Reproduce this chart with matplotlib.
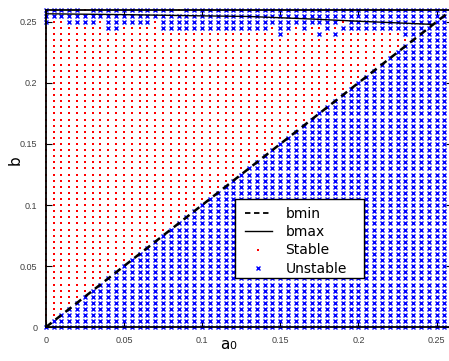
import numpy as np
import matplotlib
matplotlib.use("Agg")
import matplotlib.pyplot as plt
from matplotlib.lines import Line2D
from matplotlib.patches import Rectangle

# ---- data ----
step = 0.005
n_grid = 53                      # a0 and b from 0 to 0.26
a0_values = np.round(np.arange(n_grid) * step, 4)
b_values = np.round(np.arange(n_grid) * step, 4)

# bmin: b = a0 (straight diagonal)
bmin_a0 = [0.0, 0.26]
bmin_b = [0.0, 0.26]

# bmax curve (nearly flat, slightly decreasing)
bmax_a0 = [0.0, 0.05, 0.10, 0.13, 0.17, 0.20, 0.2478]
bmax_b = [0.2565, 0.2558, 0.2548, 0.2543, 0.2522, 0.2504, 0.2478]

# top rows read marker by marker: column indices (a0 = index*0.005) that are UNSTABLE
all_cols = list(range(n_grid))
unstable_row_026 = [c for c in all_cols if c not in (5, 17)]
unstable_row_0255 = all_cols
unstable_row_025 = [c for c in all_cols if c not in (1, 2, 7, 14, 38)]
unstable_row_0245 = [8, 9] + list(range(15, 29)) + [30, 31, 33, 36] + list(range(38, 53))
unstable_row_024 = [30, 35, 37] + list(range(46, 53))
top_rows = {
    52: unstable_row_026,
    51: unstable_row_0255,
    50: unstable_row_025,
    49: unstable_row_0245,
    48: unstable_row_024,
}
# below the top rows: stable above the bmin diagonal, unstable on/below it

stable_a, stable_b, unstable_a, unstable_b = [], [], [], []
for j, b in enumerate(b_values):
    for i, a in enumerate(a0_values):
        if j in top_rows:
            st = i not in top_rows[j]
        else:
            st = i < j
        if st:
            stable_a.append(a); stable_b.append(b)
        else:
            unstable_a.append(a); unstable_b.append(b)

xticks = [0, 0.05, 0.1, 0.15, 0.2, 0.25]
yticks = [0, 0.05, 0.1, 0.15, 0.2, 0.25]
xtick_labels = ["0", "0.05", "0.1", "0.15", "0.2", "0.25"]
ytick_labels = ["0", "0.05", "0.1", "0.15", "0.2", "0.25"]
legend_labels = ["bmin", "bmax", "Stable", "Unstable"]

# ---- figure ----
W, H = 449, 361
fig = plt.figure(figsize=(W / 100, H / 100), dpi=100)
left, right, bottom, top = 45.7, 452.3, 327.3, 9.5
ax = fig.add_axes([left / W, 1 - bottom / H, (right - left) / W, (bottom - top) / H])

ax.plot(stable_a, stable_b, linestyle="none", marker="s", markersize=1.6,
        markerfacecolor="#ff0000", markeredgewidth=0, color="#ff0000", zorder=2,
        clip_on=False)
ax.plot(unstable_a, unstable_b, linestyle="none", marker="x", markersize=3.3,
        markeredgewidth=1.0, color="#0000ff", zorder=2, clip_on=False)
ax.plot(bmin_a0, bmin_b, color="black", linestyle=(0, (3, 2)), linewidth=1.8, zorder=3)
ax.plot(bmax_a0, bmax_b, color="black", linewidth=1.0, zorder=3)

ax.set_xlim(0, 0.26)
ax.set_ylim(0, 0.26)
ax.set_xticks(xticks)
ax.set_xticklabels(xtick_labels)
ax.set_yticks(yticks)
ax.set_yticklabels(ytick_labels)
ax.tick_params(direction="in", length=4, width=0.8, top=True, right=True,
               labelsize=6.5, labelcolor="#404040", pad=6)
for lab in ax.get_xticklabels() + ax.get_yticklabels():
    lab.set_family("Liberation Sans")
for sp in ax.spines.values():
    sp.set_linewidth(1.3)

fig.text(15 / W, 1 - 160 / H, "b", rotation=90, ha="center", va="center", fontsize=11)
fig.text(229 / W, 1 - 349 / H, "a", ha="right", va="baseline", fontsize=11)
fig.text(229 / W, 1 - 349 / H, "0", ha="left", va="baseline", fontsize=8)

# legend box (MATLAB-style, extra room on the right)
bx0, by0, bx1, by1 = 235, 199, 364, 278
fig.patches.append(Rectangle((bx0 / W, 1 - by1 / H), (bx1 - bx0) / W, (by1 - by0) / H,
                             transform=fig.transFigure, facecolor="white",
                             edgecolor="black", linewidth=1.0, zorder=4))

handles = [
    Line2D([], [], color="black", linestyle=(0, (3, 2)), linewidth=1.3),
    Line2D([], [], color="black", linewidth=1.0),
    Line2D([], [], linestyle="none", marker="s", markersize=1.6, markeredgewidth=0,
           markerfacecolor="#ff0000"),
    Line2D([], [], linestyle="none", marker="x", markersize=3.3, markeredgewidth=1.0,
           color="#0000ff"),
]
leg = fig.legend(handles, legend_labels,
                 loc="upper left", bbox_to_anchor=(239 / W, 1 - 201 / H),
                 fontsize=10, frameon=False, handlelength=2.0, handletextpad=0.95,
                 borderpad=0.4, labelspacing=0.32, borderaxespad=0)
leg.set_zorder(5)

fig.savefig("out.png", dpi=100)
